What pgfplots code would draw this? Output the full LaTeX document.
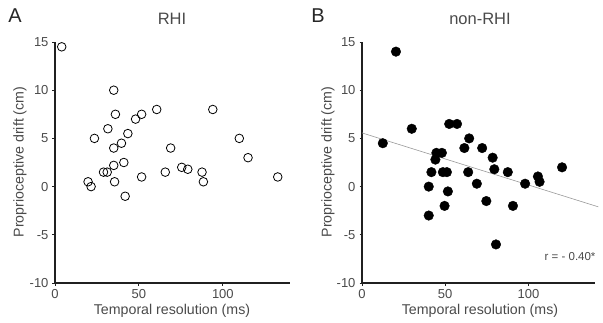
\documentclass[border=0pt]{standalone}
\usepackage{pgfplots}
\pgfplotsset{compat=1.18}
\usepackage{fontspec}
\setmainfont{Liberation Sans}
\definecolor{txt}{HTML}{4A4A4A}
\definecolor{axl}{HTML}{202020}
\pgfplotstableread{
x y
4 14.5
35 10
36 7.5
48 7
51.6 7.5
60.6 8
94 8
31.5 6
23.5 5
43.4 5.5
39.6 4.5
35 4
68.9 4
109.8 5
115 3
35 2.2
41 2.5
28.9 1.5
31.1 1.5
51.6 1
65.7 1.5
75.5 2
79.1 1.8
87.6 1.5
88.4 0.5
132.7 1
19.7 0.5
21.5 0
35.5 0.5
41.8 -1
}\rhi
\pgfplotstableread{
x y
20.4 14
29.9 6
12.5 4.5
52.4 6.5
57.1 6.5
64.4 5
61.5 4
72.2 4
44.7 3.5
48 3.5
44.1 2.8
78.5 3
79.5 1.8
41.7 1.5
48.6 1.5
51 1.5
63.8 1.5
87.6 1.5
120.2 2
105.7 1.05
106.7 0.5
98 0.3
69 0.3
40.1 0
51.6 -0.5
74.7 -1.5
49.6 -2
90.7 -2
40.1 -3
80.5 -6
}\nonrhi
\pgfplotsset{
  myaxis/.style={
    scale only axis,
    width=235pt, height=241pt,
    xmin=0, xmax=140, ymin=-10, ymax=15,
    axis lines=left,
    axis line style={axl, line width=1.6pt, -},
    xtick={0,50,100}, ytick={-10,-5,0,5,10,15},
    tick style={axl, line width=1pt},
    major tick length=2.5pt,
    tick align=outside,
    ticklabel style={font=\fontsize{13}{14}\selectfont, text=txt},
    /pgf/number format/assume math mode=true,
    xticklabel style={yshift=-0.5pt},
    yticklabel style={xshift=-0.5pt},
    clip=false,
  }
}
\begin{document}
\begin{tikzpicture}[x=1pt,y=1pt]
\useasboundingbox (0,0) rectangle (603,322);
\begin{axis}[myaxis, at={(55pt,39pt)}, anchor=south west]
\addplot[only marks, mark=o, mark size=4.3pt, mark options={black, line width=0.8pt}] table[x=x,y=y]{\rhi};
\end{axis}
\begin{axis}[myaxis, width=233pt, at={(362pt,39pt)}, anchor=south west]
\addplot[only marks, mark=*, mark size=4.8pt, mark options={black}] table[x=x,y=y]{\nonrhi};
\addplot[color=gray!80, line width=0.6pt] coordinates {(0,5.57) (142,-2.1)};
\end{axis}
\node[font=\fontsize{20}{22}\selectfont, text=black!85] at (15,306) {A};
\node[font=\fontsize{20}{22}\selectfont, text=black!85] at (318,306) {B};
\node[font=\fontsize{16.5}{18}\selectfont, text=txt] at (172,303) {RHI};
\node[font=\fontsize{16.5}{18}\selectfont, text=txt] at (480,303) {non-RHI};
\node[font=\fontsize{14.2}{16}\selectfont, text=txt, rotate=90] at (20,160) {Proprioceptive drift (cm)};
\node[font=\fontsize{14.2}{16}\selectfont, text=txt, rotate=90] at (328,160) {Proprioceptive drift (cm)};
\node[font=\fontsize{14.2}{16}\selectfont, text=txt] at (172,11) {Temporal resolution (ms)};
\node[font=\fontsize{14.2}{16}\selectfont, text=txt] at (480,11) {Temporal resolution (ms)};
\node[font=\fontsize{11.5}{13}\selectfont, text=txt, anchor=east] at (599,65) {r = - 0.40*};
\end{tikzpicture}
\end{document}
